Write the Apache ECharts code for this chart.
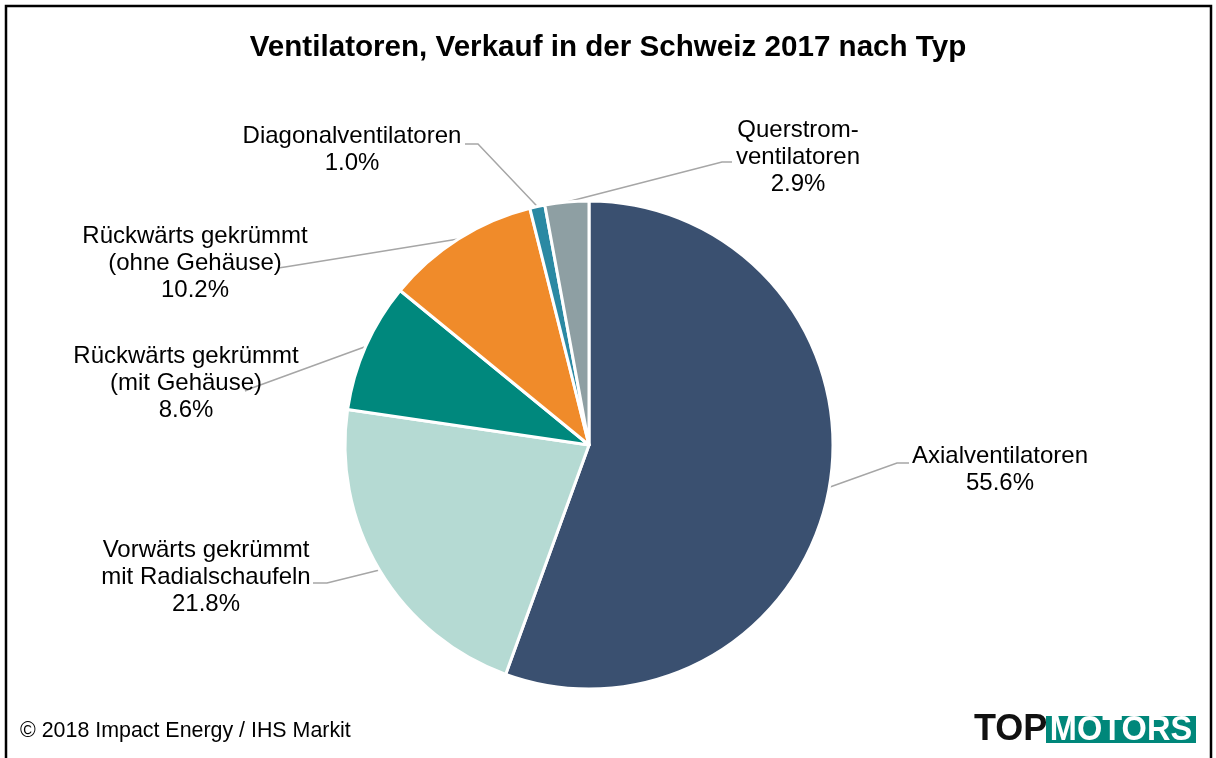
<!DOCTYPE html>
<html>
<head>
<meta charset="utf-8">
<title>Ventilatoren, Verkauf in der Schweiz 2017 nach Typ</title>
<script src="https://cdn.jsdelivr.net/npm/echarts@6/dist/echarts.min.js"></script>
<style>
  html, body { margin: 0; padding: 0; background: #fff; }
  #chart { width: 1216px; height: 758px; }
</style>
</head>
<body>
<div id="chart"></div>
<script>
// ------------------------------  Daten ---------------------------
const categories = [
  'Axialventilatoren',
  'Vorwärts gekrümmt\nmit Radialschaufeln',
  'Rückwärts gekrümmt\n(mit Gehäuse)',
  'Rückwärts gekrümmt\n(ohne Gehäuse)',
  'Diagonalventilatoren',
  'Querstrom-\nventilatoren'
];
// Anteile in %
const shares = [55.6, 21.8, 8.6, 10.2, 1.0, 2.9];

const colors = ['#3a5070', '#b5dad3', '#00887d', '#f08b2a', '#2b89a3', '#8e9fa3'];

// Position der Beschriftungen (Mittelpunkt) und Knick / Ende der Linie
const labelPos = [[1000, 470], [206, 577], [186, 383], [195, 263], [352, 150], [798, 157]];
const lineBend = [[897, 463], [327, 583], [252, 388], [285, 267], [478, 144], [722, 162]];
const lineEnd = [[909, 463], [313, 583], [245, 391], [278, 268], [465, 144], [732, 162]];

(function () {
  let myChart = echarts.init(document.getElementById('chart'));
  const font = '"Liberation Sans", Arial, sans-serif';

  let option = {
    animation: false,
    color: colors,
    textStyle: { fontFamily: font },
    title: {
      text: 'Ventilatoren, Verkauf in der Schweiz 2017 nach Typ',
      left: 'center',
      top: 28,
      textStyle: { fontSize: 29.6, fontWeight: 'bold', color: '#000', fontFamily: font }
    },
    graphic: [
      // Rahmen
      {
        type: 'rect',
        shape: { x: 6, y: 6, width: 1205, height: 800 },
        style: { fill: 'none', stroke: '#000', lineWidth: 2.5 },
        silent: true
      },
      // Quelle
      {
        type: 'text',
        x: 20,
        y: 731,
        style: {
          text: '© 2018 Impact Energy / IHS Markit',
          fill: '#000',
          font: '21.4px ' + font,
          verticalAlign: 'middle'
        }
      },
      // Logo
      {
        type: 'text',
        x: 974,
        y: 730,
        style: {
          text: 'TOP',
          fill: '#111',
          font: 'bold 36px ' + font,
          verticalAlign: 'middle'
        }
      },
      {
        type: 'rect',
        shape: { x: 1046, y: 716, width: 150, height: 27 },
        style: { fill: '#00877a' }
      },
      {
        type: 'text',
        x: 1121,
        y: 730,
        scaleX: 0.93,
        style: {
          text: 'MOTORS',
          fill: '#fff',
          font: 'bold 35px ' + font,
          align: 'center',
          verticalAlign: 'middle'
        }
      }
    ],
    series: [
      {
        type: 'pie',
        center: [589, 445],
        radius: 244,
        startAngle: 90,
        clockwise: true,
        avoidLabelOverlap: false,
        emphasis: { scale: false },
        itemStyle: { borderColor: '#fff', borderWidth: 3 },
        label: {
          show: true,
          position: 'outside',
          color: '#000',
          fontSize: 24,
          lineHeight: 27,
          fontFamily: font,
          align: 'center',
          formatter: function (p) {
            return p.name + '\n' + p.value.toFixed(1) + '%';
          }
        },
        labelLine: {
          show: true,
          length: 20,
          length2: 10,
          lineStyle: { color: '#a6a6a6', width: 1.5 }
        },
        labelLayout: function (params) {
          let i = params.dataIndex;
          let anchor = params.labelLinePoints ? params.labelLinePoints[0] : lineBend[i];
          return {
            x: labelPos[i][0],
            y: labelPos[i][1],
            align: 'center',
            verticalAlign: 'middle',
            labelLinePoints: [anchor, lineBend[i], lineEnd[i]]
          };
        },
        data: categories.map(function (name, i) {
          return { name: name, value: shares[i] };
        })
      }
    ]
  };
  myChart.setOption(option);
})();
</script>
</body>
</html>
